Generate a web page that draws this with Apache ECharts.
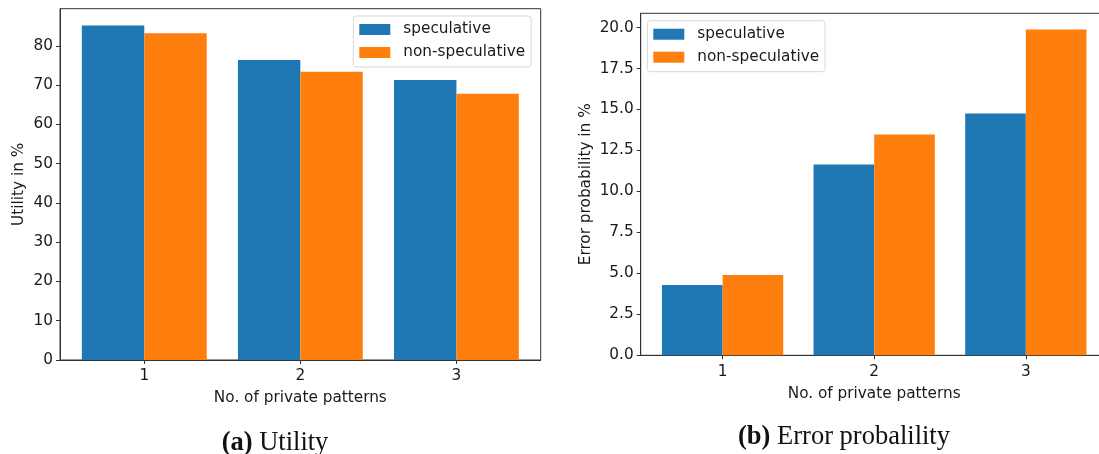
<!DOCTYPE html>
<html><head><meta charset="utf-8">
<script src="https://cdn.jsdelivr.net/npm/echarts@6/dist/echarts.min.js"></script>
<style>html,body{margin:0;padding:0;background:#fff}#c{width:1099px;height:454px}</style>
</head><body><div id="c"></div>
<script>
const categories = [1, 2, 3];
const utilSpec = [85.2, 76.4, 71.3];
const utilNonSpec = [83.2, 73.4, 67.8];
const errSpec = [4.29, 11.64, 14.75];
const errNonSpec = [4.90, 13.47, 19.88];
const utilTicks = [0, 10, 20, 30, 40, 50, 60, 70, 80];
const errTicks = [0, 2.5, 5, 7.5, 10, 12.5, 15, 17.5, 20];
const seriesNames = ['speculative', 'non-speculative'];

const FONT = 'DejaVu Sans';
const FS = 15.3;
const TXT = '#1a1a1a';
const AX = '#333';
const BLUE = '#1f77b4', ORANGE = '#ff7f0e';

function pairs(vals){ return categories.map((c,i)=>[c, vals[i]]); }

function xAxis(gi){
  return {
    type:'value', gridIndex:gi, min:0.46, max:3.54,
    name:'No. of private patterns', nameLocation:'middle', nameGap:31,
    nameTextStyle:{fontFamily:FONT, fontSize:FS, color:TXT},
    axisLine:{show:true, lineStyle:{color:AX, width:1}},
    axisTick:{show:true, length:4, lineStyle:{color:AX}, customValues:categories},
    axisLabel:{fontFamily:FONT, fontSize:FS, color:TXT, margin:9, customValues:categories},
    splitLine:{show:false}
  };
}
function yAxis(gi, max, ticks, name, gap, fmt){
  return {
    type:'value', gridIndex:gi, min:0, max:max,
    name:name, nameLocation:'middle', nameGap:gap,
    nameTextStyle:{fontFamily:FONT, fontSize:FS, color:TXT},
    axisLine:{show:true, lineStyle:{color:AX, width:1}},
    axisTick:{show:true, length:4, lineStyle:{color:AX}, customValues:ticks},
    axisLabel:{fontFamily:FONT, fontSize:FS, color:TXT, margin:7, customValues:ticks, formatter:fmt},
    splitLine:{show:false}
  };
}
function legend(left, top){
  return {
    orient:'vertical', left:left, top:top,
    data:seriesNames,
    itemWidth:31, itemHeight:11, itemGap:8,
    icon:'rect',
    backgroundColor:'#fff', borderColor:'#d8d8d8', borderWidth:1, borderRadius:3,
    padding:[6,6,7,6],
    textStyle:{fontFamily:FONT, fontSize:FS, color:TXT, padding:[0,0,0,8]},
    selectedMode:false
  };
}
function bar(name, data, color, gi){
  return {
    type:'bar', name:name, xAxisIndex:gi, yAxisIndex:gi,
    data:pairs(data), barWidth:'40%', barGap:'0%',
    itemStyle:{color:color}, animation:false
  };
}
function caption(label, text, center, top){
  return {text:'{b|' + label + '} ' + text, left:center, top:top, textAlign:'center',
    textStyle:{fontFamily:'Liberation Serif', fontSize:26.5, fontWeight:'normal', color:'#111',
      rich:{b:{fontFamily:'Liberation Serif', fontSize:26.5, fontWeight:'bold', color:'#111'}}}};
}

const chart = echarts.init(document.getElementById('c'), null, {renderer:'canvas'});
chart.setOption({
  animation:false,
  grid:[
    {left:60, top:8.7, width:480.7, height:351.3, show:true, borderColor:AX, borderWidth:1, outerBoundsMode:'none', containLabel:false},
    {left:640.7, top:13.3, width:467, height:342, show:true, borderColor:AX, borderWidth:1, outerBoundsMode:'none', containLabel:false}
  ],
  xAxis:[xAxis(0), xAxis(1)],
  yAxis:[
    yAxis(0, 89.46, utilTicks, 'Utility in %', 33, v=>String(v)),
    yAxis(1, 20.87, errTicks, 'Error probability in %', 47, v=>v.toFixed(1))
  ],
  legend:[legend(353.3, 16), legend(647.3, 20.7)],
  title:[
    caption('(a)', 'Utility', 270, 425),
    caption('(b)', 'Error probalility', 839, 419)
  ],
  series:[
    bar(seriesNames[0], utilSpec, BLUE, 0),
    bar(seriesNames[1], utilNonSpec, ORANGE, 0),
    bar(seriesNames[0], errSpec, BLUE, 1),
    bar(seriesNames[1], errNonSpec, ORANGE, 1)
  ]
});
</script></body></html>
